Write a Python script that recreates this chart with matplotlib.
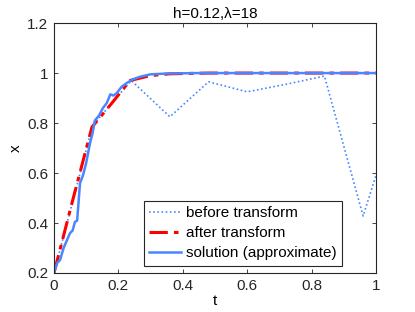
import matplotlib
matplotlib.use("Agg")
import matplotlib.pyplot as plt

# before transform (coarse steps, h=0.12)
t_before = [0.0, 0.12, 0.24, 0.36, 0.48, 0.60, 0.72, 0.84, 0.96, 1.0]
x_before = [0.2, 0.79, 0.97, 0.825, 0.965, 0.925, 0.955, 0.988, 0.428, 0.59]

# after transform
t_after = [0.0, 0.06, 0.118, 0.18, 0.236, 0.30, 0.36, 0.48, 1.0]
x_after = [0.2, 0.50, 0.784, 0.88, 0.97, 0.99, 0.997, 1.0, 1.0]

# solution (approximate)
t_sol = [0.0, 0.01, 0.019, 0.03, 0.04, 0.05, 0.058, 0.065, 0.072, 0.081,
         0.09, 0.1, 0.112, 0.12, 0.127, 0.14, 0.152, 0.164, 0.175, 0.185,
         0.195, 0.21, 0.226, 0.245, 0.267, 0.3, 0.35, 0.45, 1.0]
x_sol = [0.2, 0.24, 0.252, 0.30, 0.33, 0.36, 0.37, 0.404, 0.41, 0.56,
         0.59, 0.64, 0.72, 0.76, 0.81, 0.83, 0.86, 0.88, 0.915, 0.91,
         0.92, 0.945, 0.96, 0.975, 0.985, 0.995, 0.998, 1.0, 1.0]

plt.rcParams["font.family"] = ["Liberation Sans", "DejaVu Sans"]
plt.rcParams["font.size"] = 11

fig = plt.figure(figsize=(4.15, 3.12), dpi=100)
ax = fig.add_axes([0.130, 0.125, 0.776, 0.801])

blue = "#4a86ff"
ax.plot(t_before, x_before, ls=(0, (1, 1.5)), color=blue, lw=1.2, label="before transform")
ax.plot(t_after, x_after, ls=(0, (6, 2, 1.5, 2)), color="red", lw=2.2, label="after transform")
ax.plot(t_sol, x_sol, ls="-", color=blue, lw=1.8, label="solution (approximate)")

ax.set_xlim(0, 1)
ax.set_ylim(0.2, 1.2)
ax.set_xticks([0, 0.2, 0.4, 0.6, 0.8, 1.0])
ax.set_xticklabels(["0", "0.2", "0.4", "0.6", "0.8", "1"])
ax.set_yticks([0.2, 0.4, 0.6, 0.8, 1.0, 1.2])
ax.set_yticklabels(["0.2", "0.4", "0.6", "0.8", "1", "1.2"])
ax.tick_params(direction="in", top=True, right=True, length=3, width=0.6,
               colors="#262626", pad=4)
for s in ax.spines.values():
    s.set_color("#262626")
    s.set_linewidth(0.8)
ax.set_xlabel("t", labelpad=1)
ax.set_ylabel("x", labelpad=3)
ax.set_title("h=0.12,λ=18", fontsize=11, pad=4)

leg = ax.legend(loc="lower right", bbox_to_anchor=(0.894, 0.03), fancybox=False,
                edgecolor="#262626", framealpha=1, handlelength=2.1,
                borderpad=0.35, labelspacing=0.4, handletextpad=0.3,
                borderaxespad=0)
leg.get_frame().set_linewidth(0.8)

fig.savefig("out.png", dpi=100)
